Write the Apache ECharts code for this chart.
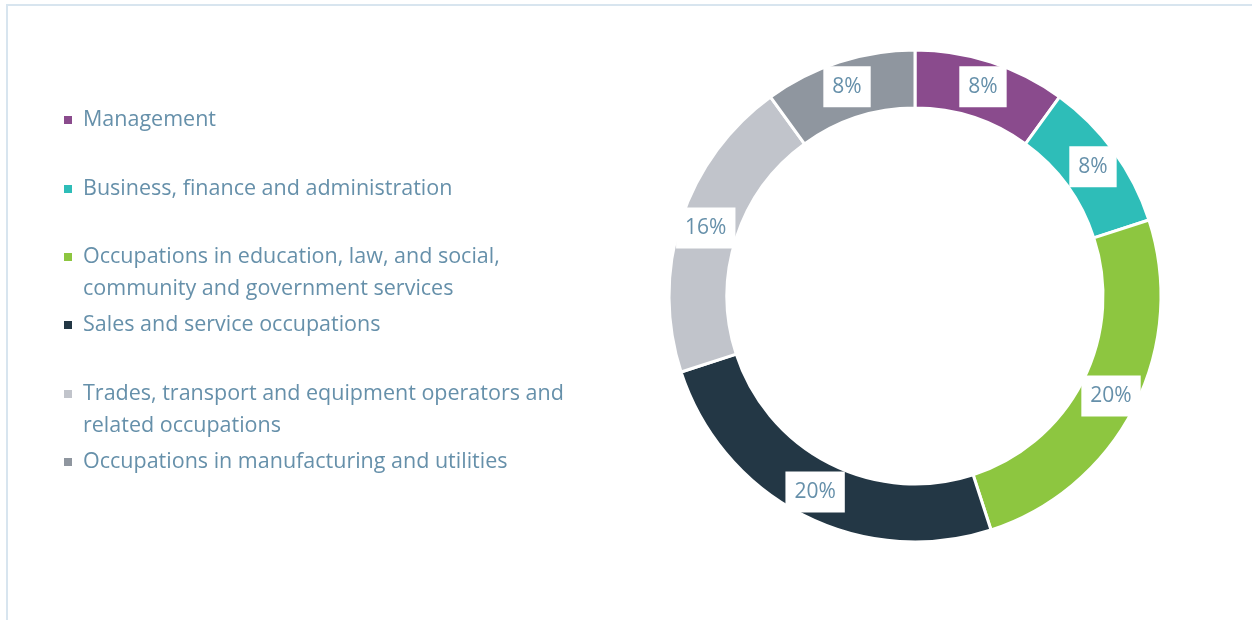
<!DOCTYPE html>
<html>
<head>
<meta charset="utf-8">
<script src="https://cdn.jsdelivr.net/npm/echarts@6/dist/echarts.min.js"></script>
<style>
  html, body { margin: 0; padding: 0; background: #fff; }
  #frame { position: absolute; left: 6px; top: 4px; width: 1246px; height: 616px;
           border-top: 2px solid #d8e5ef; border-left: 2px solid #d8e5ef; }
  #container { position: absolute; left: 0; top: 0; width: 1252px; height: 620px; }
</style>
</head>
<body>
<div id="frame"></div>
<div id="container"></div>
<script>
    // occupation groups, in the order they appear round the ring
    var categories = [
        'Management',
        'Business, finance and administration',
        'Occupations in education, law, and social,\ncommunity and government services',
        'Sales and service occupations',
        'Trades, transport and equipment operators and\nrelated occupations',
        'Occupations in manufacturing and utilities'
    ];
    var shares = [8, 8, 20, 20, 16, 8];
    var colors = ['#8a4b8d', '#2ebdb8', '#8dc640', '#233745', '#c1c4cb', '#8f969f'];

    var legendTops = [109, 178, 214, 314, 351, 451];
    var textColor = '#6690aa';

    var pieData = [];
    for (var i = 0; i < categories.length; i++) {
        pieData.push({ name: categories[i], value: shares[i], itemStyle: { color: colors[i] } });
    }

    // legend text: icon sits beside the first line, so two-line names get
    // an empty line on top to keep line one centred on the square
    function legendText(name) {
        var lines = name.split('\n');
        var out = [];
        for (var j = 0; j < lines.length; j++) out.push('{t|' + lines[j] + '}');
        if (lines.length > 1) out.unshift('{t|\u00a0}');
        return out.join('\n');
    }

    var legends = [];
    for (var i = 0; i < categories.length; i++) {
        legends.push({
            orient: 'vertical',
            left: 62,
            top: legendTops[i],
            padding: 0,
            icon: 'rect',
            itemWidth: 10,
            itemHeight: 10,
            selectedMode: false,
            data: [categories[i]],
            formatter: legendText,
            textStyle: {
                rich: {
                    t: {
                        fontFamily: 'Open Sans',
                        fontSize: 21.5,
                        lineHeight: 32,
                        color: textColor,
                        padding: [0, 0, 0, 5]
                    }
                }
            }
        });
    }

    var dom = document.getElementById('container');
    var myChart = echarts.init(dom);
    var option = {
        animation: false,
        legend: legends,
        series: [{
            type: 'pie',
            center: [915, 296],
            radius: [188, 246],
            startAngle: 90,
            itemStyle: { borderColor: '#fff', borderWidth: 3 },
            label: {
                position: 'inside',
                formatter: '{c}%',
                fontFamily: 'Open Sans',
                fontSize: 21,
                lineHeight: 21,
                color: textColor,
                backgroundColor: '#fff',
                padding: [10, 9]
            },
            labelLine: { show: false },
            emphasis: { disabled: true },
            data: pieData
        }]
    };
    myChart.setOption(option);
</script>
</body>
</html>
